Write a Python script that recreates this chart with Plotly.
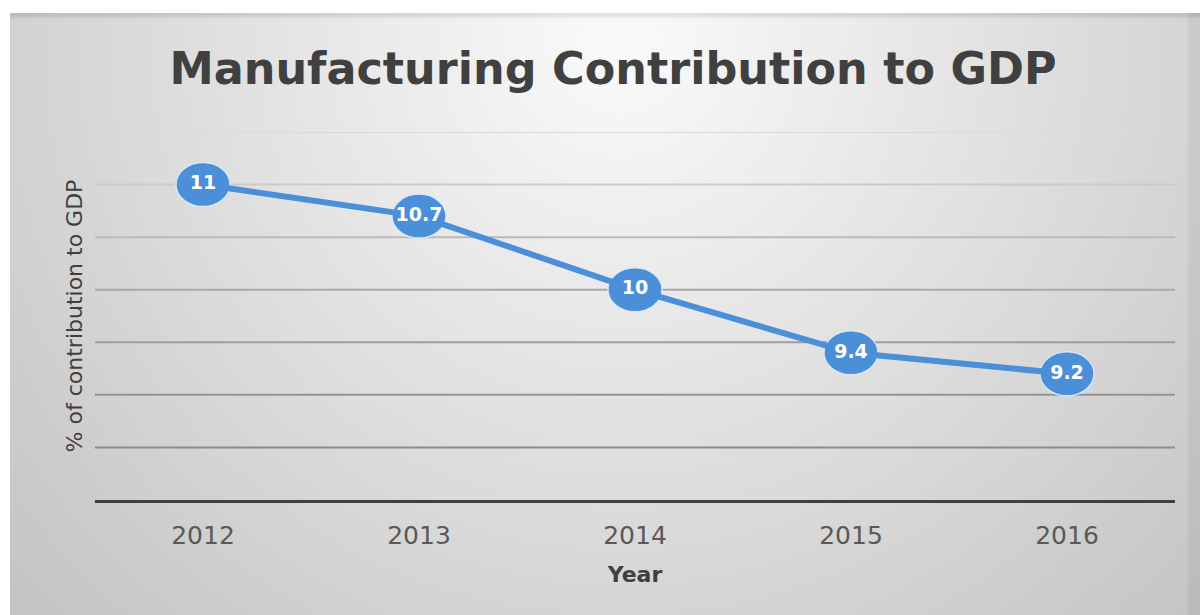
import base64
import struct
import zlib

import numpy as np
import plotly.graph_objects as go

# Data
years = ["2012", "2013", "2014", "2015", "2016"]
share_of_gdp = [11, 10.7, 10, 9.4, 9.2]
grid_values = [8.5, 9, 9.5, 10, 10.5, 11, 11.5]
grid_colors = ["#8c8c8c", "#949494", "#9e9e9e", "#a9a9a9", "#bababa", "#cbcbcb", "#dadada"]

W, H = 1200, 615
M_L, M_R, M_T, M_B = 95, 25, 132, 115
PLOT_W = W - M_L - M_R
PLOT_H = H - M_T - M_B
FONT = "DejaVu Sans"
BLUE = "#4a8fd8"


def png_uri(rgb):
    """Encode an HxWx3 uint8 array as a PNG data URI."""
    h, w, _ = rgb.shape
    raw = b"".join(b"\x00" + rgb[r].tobytes() for r in range(h))

    def chunk(tag, data):
        c = struct.pack(">I", len(data)) + tag + data
        return c + struct.pack(">I", zlib.crc32(tag + data) & 0xFFFFFFFF)

    png = b"\x89PNG\r\n\x1a\n"
    png += chunk(b"IHDR", struct.pack(">IIBBBBB", w, h, 8, 2, 0, 0, 0))
    png += chunk(b"IDAT", zlib.compress(raw, 9))
    png += chunk(b"IEND", b"")
    return "data:image/png;base64," + base64.b64encode(png).decode()


# Radial grey backdrop, lightest near the top centre
BG_X0, BG_Y0 = 10, 13
bg_w, bg_h = W - BG_X0, H - BG_Y0
gw, gh = 298, 150
xs = BG_X0 + (np.arange(gw) + 0.5) * bg_w / gw
ys = BG_Y0 + (np.arange(gh) + 0.5) * bg_h / gh
X, Y = np.meshgrid(xs, ys)
dist = np.sqrt((X - 620) ** 2 + (Y - 40) ** 2)
shade = 251 - 0.066 * dist
shade[0, :] -= 22                      # thin darker top edge
shade[:, -3:] -= 10                    # darker right rim
shade = np.clip(shade, 0, 255).astype(np.uint8)
bg = np.stack([shade, shade, shade], axis=-1)

fig = go.Figure()

# Connecting line with the value labels on top
fig.add_trace(go.Scatter(
    x=years,
    y=share_of_gdp,
    mode="lines+text",
    line=dict(color=BLUE, width=6),
    text=[f"{v:g}" for v in share_of_gdp],
    textposition="middle center",
    textfont=dict(family=FONT, size=19, color="white", weight="bold"),
    cliponaxis=False,
    hoverinfo="skip",
    showlegend=False,
))

# Gridlines, fading towards the top
shapes = [
    dict(type="line", xref="paper", yref="y", x0=0, x1=1, y0=v, y1=v,
         line=dict(color=c, width=2), layer="below")
    for v, c in zip(grid_values, grid_colors)
]

# Oval point markers anchored at each data value (category index on x)
shapes += [
    dict(type="circle", xref="x", yref="y",
         xsizemode="pixel", ysizemode="pixel",
         xanchor=i, yanchor=v,
         x0=-27, x1=27, y0=-22, y1=22,
         fillcolor=BLUE, line=dict(color="rgba(225,236,248,0.85)", width=1.5),
         layer="below")
    for i, v in enumerate(share_of_gdp)
]

fig.update_layout(
    width=W,
    height=H,
    margin=dict(l=M_L, r=M_R, t=M_T, b=M_B),
    paper_bgcolor="white",
    plot_bgcolor="rgba(0,0,0,0)",
    images=[dict(
        source=png_uri(bg),
        xref="paper", yref="paper",
        x=(BG_X0 - M_L) / PLOT_W,
        y=(H - M_B - BG_Y0) / PLOT_H,
        sizex=bg_w / PLOT_W,
        sizey=bg_h / PLOT_H,
        sizing="stretch",
        xanchor="left", yanchor="top",
        layer="below",
    )],
    shapes=shapes,
    title=dict(
        text="<b>Manufacturing Contribution to GDP</b>",
        font=dict(family=FONT, size=44.5, color="#404040"),
        xref="container", yref="container",
        x=613 / W, y=1 - 68 / H,
        xanchor="center", yanchor="middle",
    ),
    xaxis=dict(
        type="category",
        range=[-0.5, 4.5],
        showgrid=False,
        showline=True,
        linecolor="#404040",
        linewidth=3,
        ticks="",
        tickfont=dict(family=FONT, size=25, color="#595959"),
        ticklabelstandoff=11,
        title=dict(text="<b>Year</b>", font=dict(family=FONT, size=22, color="#404040"), standoff=18),
        zeroline=False,
        fixedrange=True,
    ),
    yaxis=dict(
        range=[8, 11.5],
        showgrid=False,
        showticklabels=False,
        ticks="",
        zeroline=False,
        title=dict(text="% of contribution to GDP", font=dict(family=FONT, size=22, color="#404040"), standoff=5),
        fixedrange=True,
    ),
)

fig.write_html("out.html")
